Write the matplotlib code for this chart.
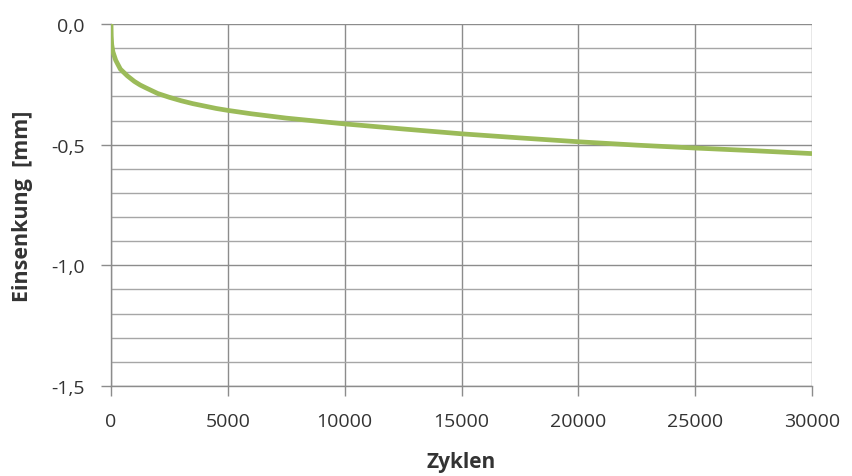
import matplotlib.pyplot as plt
from matplotlib.ticker import MultipleLocator, FuncFormatter

zyklen = [0, 10, 30, 80, 200, 400, 700, 1000, 1250, 1500, 2000, 2500, 3000, 3500,
          4000, 4500, 5000, 6000, 7500, 10000, 12500, 15000, 17500, 20000, 22500,
          25000, 27500, 30000]
einsenkung = [0.0, -0.05, -0.085, -0.115, -0.15, -0.187, -0.215, -0.238, -0.253,
              -0.265, -0.288, -0.304, -0.318, -0.33, -0.34, -0.35, -0.358, -0.372,
              -0.39, -0.414, -0.435, -0.455, -0.472, -0.488, -0.502, -0.514,
              -0.525, -0.537]

plt.rcParams['font.family'] = ['Open Sans', 'DejaVu Sans']

fig = plt.figure(figsize=(8.52, 4.77), dpi=100)
ax = fig.add_axes([0.1303, 0.1887, 0.8228, 0.7589])

ax.plot(zyklen, einsenkung, color='#9bbb59', linewidth=3.4, solid_capstyle='butt',
        solid_joinstyle='round', zorder=3)

ax.set_xlim(0, 30000)
ax.set_ylim(-1.5, 0)
ax.xaxis.set_major_locator(MultipleLocator(5000))
ax.yaxis.set_major_locator(MultipleLocator(0.5))
ax.yaxis.set_minor_locator(MultipleLocator(0.1))
ax.yaxis.set_major_formatter(FuncFormatter(lambda v, p: ('%.1f' % v).replace('.', ',').replace('-0,0', '0,0')))

ax.grid(True, which='major', axis='both', color='#8c8c8c', linewidth=1.0)
ax.grid(True, which='minor', axis='y', color='#a6a6a6', linewidth=1.0)
ax.set_axisbelow(True)

for s in ['top', 'right']:
    ax.spines[s].set_visible(False)
for s in ['left', 'bottom']:
    ax.spines[s].set_color('#8c8c8c')
    ax.spines[s].set_linewidth(1.0)

ax.tick_params(axis='both', which='major', length=7, width=1, color='#8c8c8c',
               labelsize=14, labelcolor='#333333', pad=12)
ax.tick_params(axis='y', which='minor', length=0)

ax.set_xlabel('Zyklen', fontsize=15, fontweight='bold', color='#333333', labelpad=15)
ax.set_ylabel('Einsenkung  [mm]', fontsize=15.5, fontweight='bold', color='#333333', labelpad=13)

plt.savefig('out.png', dpi=100)
